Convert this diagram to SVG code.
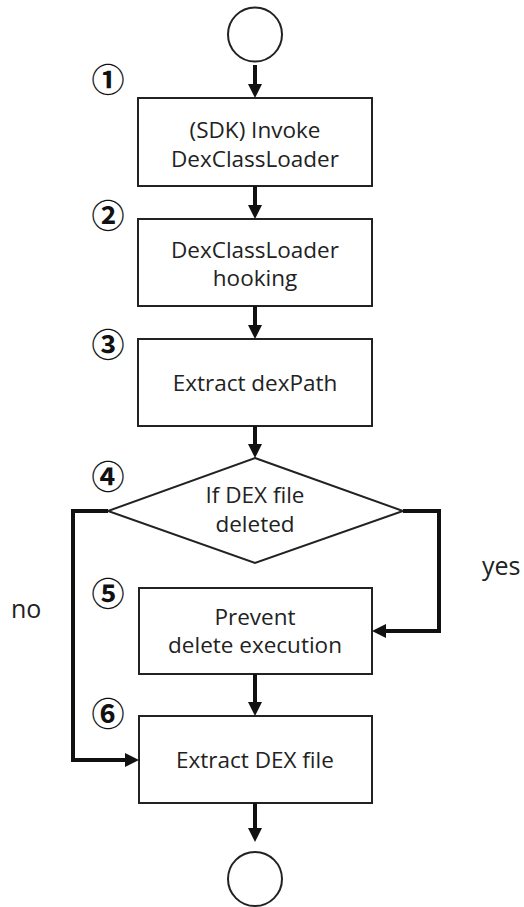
<svg xmlns="http://www.w3.org/2000/svg" width="524" height="907" viewBox="0 0 524 907">
<defs>
<style>
.box{fill:#fff;stroke:#222;stroke-width:2}
.term{fill:#fff;stroke:#222;stroke-width:2}
.lbl{font-family:"Open Sans","Liberation Sans",sans-serif;font-size:22.5px;fill:#222;text-anchor:middle}
.side{font-family:"Open Sans","Liberation Sans",sans-serif;font-size:25px;fill:#222}
.num{font-family:"Noto Sans CJK KR","Noto Sans CJK SC",sans-serif;font-size:33px;font-weight:bold;fill:#111;text-anchor:middle;dominant-baseline:central}
.conn{fill:none;stroke:#111;stroke-width:4;marker-end:url(#arr)}
</style>
<marker id="arr" viewBox="0 0 14 14" markerWidth="14" markerHeight="14" refX="4" refY="7" orient="auto" markerUnits="userSpaceOnUse">
<path d="M0,0 L14,7 L0,14 z" fill="#111"/>
</marker>
</defs>
<g id="start"><circle class="term" cx="255" cy="34.5" r="27"/></g>
<g id="n1"><rect class="box" x="138" y="98" width="234" height="88"/>
<text class="lbl" x="255" y="138">(SDK) Invoke</text><text class="lbl" x="255" y="167">DexClassLoader</text></g>
<g id="n2"><rect class="box" x="138" y="219" width="234" height="87"/>
<text class="lbl" x="255" y="258">DexClassLoader</text><text class="lbl" x="255" y="286">hooking</text></g>
<g id="n3"><rect class="box" x="138" y="339" width="234" height="87"/>
<text class="lbl" x="255" y="391">Extract dexPath</text></g>
<g id="n4"><polygon class="box" points="255,458 403,511 255,563 108,511"/>
<text class="lbl" x="255" y="503">If DEX file</text><text class="lbl" x="255" y="532">deleted</text></g>
<g id="n5"><rect class="box" x="139" y="588" width="233" height="86"/>
<text class="lbl" x="255" y="625">Prevent</text><text class="lbl" x="255" y="653">delete execution</text></g>
<g id="n6"><rect class="box" x="139" y="716" width="233" height="87"/>
<text class="lbl" x="255" y="768">Extract DEX file</text></g>
<g id="end"><circle class="term" cx="255" cy="879" r="27"/></g>
<g id="numbers">
<text class="num" x="108" y="78">①</text>
<text class="num" x="108" y="214">②</text>
<text class="num" x="108" y="343">③</text>
<text class="num" x="108" y="475">④</text>
<text class="num" x="108" y="592">⑤</text>
<text class="num" x="108" y="712">⑥</text>
</g>
<g id="labels">
<text class="side" x="482" y="575">yes</text>
<text class="side" x="11" y="618">no</text>
</g>
<g id="connectors">
<path class="conn" d="M255,65 V88"/>
<path class="conn" d="M255,186 V209"/>
<path class="conn" d="M255,306 V329"/>
<path class="conn" d="M255,426 V448"/>
<path class="conn" d="M403,511 H439 V631 H382"/>
<path class="conn" d="M108,511 H73 V760 H129"/>
<path class="conn" d="M255,674 V706"/>
<path class="conn" d="M255,803 V832"/>
</g>
</svg>
